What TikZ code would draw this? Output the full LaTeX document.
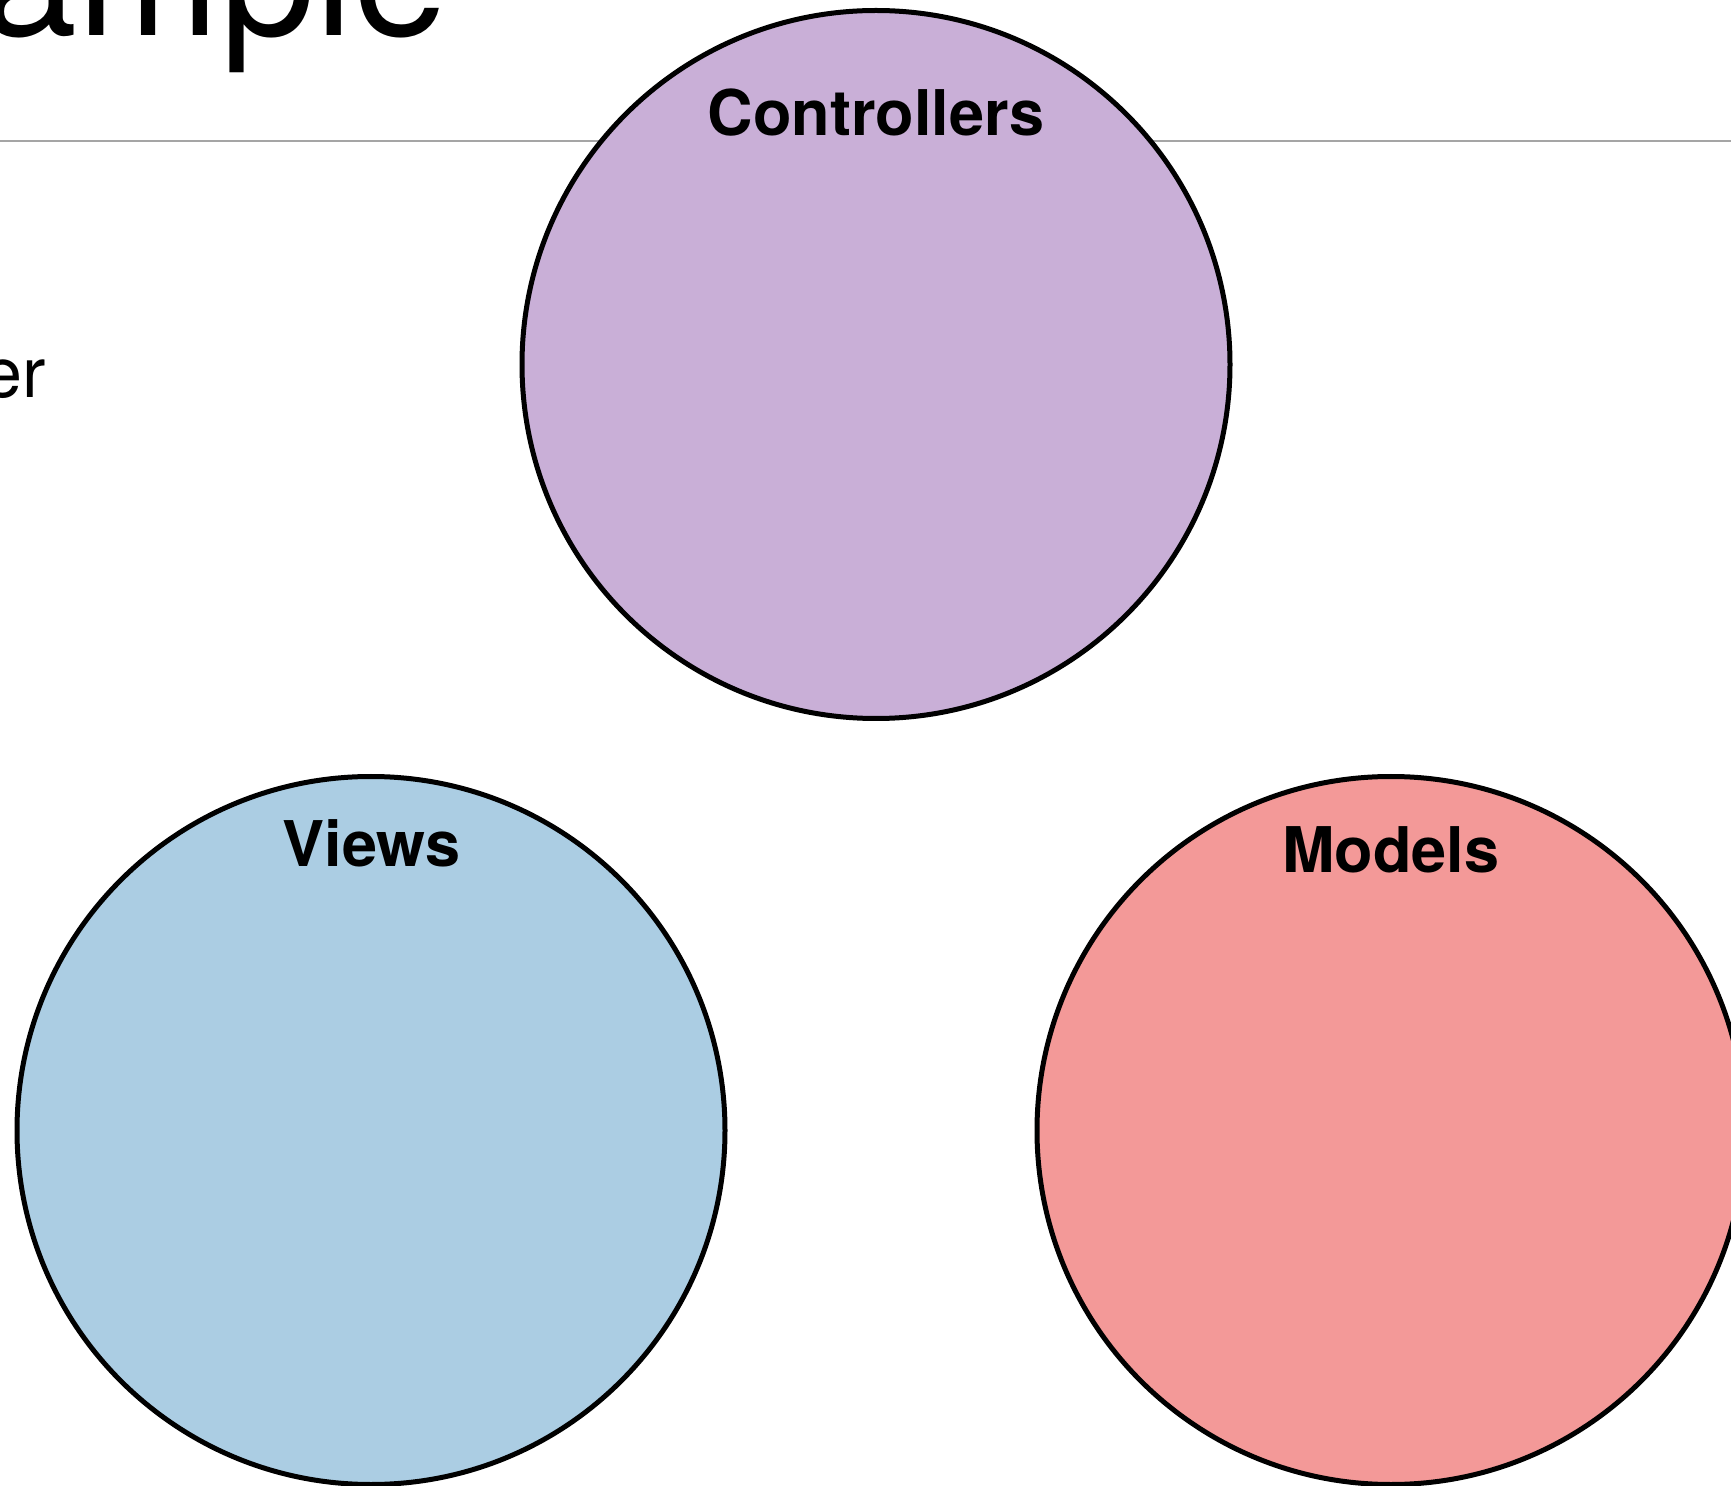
\documentclass[tikz,border=0pt]{standalone}
\usepackage{fontspec}
\setmainfont{TeX Gyre Heros}
\definecolor{ctrlfill}{RGB}{201,175,215}
\definecolor{viewfill}{RGB}{171,205,227}
\definecolor{modelfill}{RGB}{243,153,152}
\definecolor{rulegray}{RGB}{165,165,165}
\tikzset{
  mvc/.style={circle, draw=black, line width=2.5pt, minimum size=354pt, inner sep=0pt},
  lbl/.style={anchor=base, inner sep=0pt, font=\fontsize{31.5}{36}\selectfont\bfseries},
  plain/.style={inner sep=0pt, anchor=base east}
}
\begin{document}
\begin{tikzpicture}[x=0.5pt, y=-0.5pt]
\useasboundingbox (0,0) rectangle (1731,1486);
\fill[white] (0,0) rectangle (1731,1486);
% rule under the title
\coordinate (ruleL) at (0,141);
\coordinate (ruleR) at (1731,141);
\draw[rulegray, line width=1.3pt] (ruleL) -- (ruleR);
% partially visible texts
\node[plain, font=\fontsize{85.5}{100}\selectfont] (title) at (449,36) {ample};
\node[plain, font=\fontsize{35}{42}\selectfont] (side) at (46,398) {er};
% circles
\node[mvc, fill=ctrlfill] (ctrl) at (876,364.5) {};
\node[mvc, fill=viewfill] (views) at (371,1130.5) {};
\node[mvc, fill=modelfill] (models) at (1391,1130.5) {};
% labels
\node[lbl] (ctrllbl) at (876,136) {Controllers};
\node[lbl] (viewslbl) at (371.5,866.5) {Views};
\node[lbl] (modelslbl) at (1391,872) {Models};
\end{tikzpicture}
\end{document}
